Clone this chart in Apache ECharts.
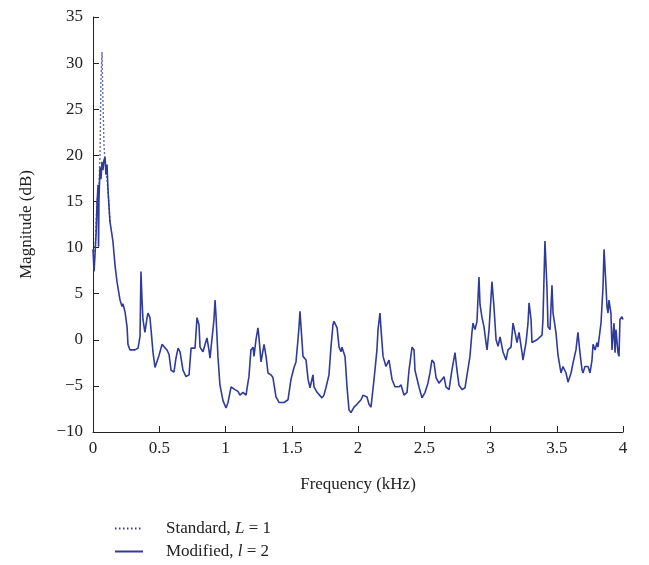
<!DOCTYPE html>
<html>
<head>
<meta charset="utf-8">
<script src="https://cdn.jsdelivr.net/npm/echarts@6/dist/echarts.min.js"></script>
<style>html,body{margin:0;padding:0;background:#fff}#c{width:649px;height:565px}</style>
</head>
<body>
<div id="c"></div>
<script>
// Frequency (kHz) and magnitude (dB)
var freqModified = [0.000,0.008,0.015,0.023,0.030,0.038,0.042,0.045,0.053,0.060,0.068,0.075,0.083,0.091,0.098,0.106,0.113,0.128,0.143,0.151,0.166,0.181,0.189,0.204,0.219,0.226,0.242,0.257,0.264,0.279,0.294,0.317,0.340,0.355,0.362,0.370,0.377,0.392,0.408,0.415,0.430,0.438,0.453,0.468,0.483,0.498,0.521,0.536,0.558,0.574,0.589,0.611,0.626,0.642,0.657,0.679,0.702,0.725,0.740,0.755,0.770,0.785,0.800,0.808,0.830,0.845,0.860,0.875,0.883,0.898,0.913,0.921,0.928,0.943,0.958,0.981,1.004,1.019,1.042,1.072,1.094,1.109,1.132,1.155,1.170,1.177,1.192,1.208,1.215,1.230,1.245,1.253,1.268,1.283,1.291,1.306,1.321,1.343,1.358,1.381,1.404,1.442,1.472,1.494,1.517,1.532,1.547,1.555,1.562,1.570,1.585,1.608,1.623,1.638,1.660,1.668,1.691,1.706,1.728,1.743,1.758,1.781,1.796,1.811,1.819,1.842,1.857,1.872,1.879,1.902,1.917,1.932,1.947,1.970,1.992,2.023,2.038,2.068,2.083,2.098,2.121,2.143,2.151,2.166,2.174,2.189,2.211,2.234,2.257,2.279,2.309,2.325,2.347,2.355,2.370,2.385,2.408,2.423,2.430,2.460,2.483,2.506,2.528,2.543,2.558,2.574,2.589,2.611,2.634,2.649,2.664,2.687,2.709,2.732,2.747,2.762,2.785,2.808,2.823,2.845,2.860,2.868,2.883,2.898,2.913,2.921,2.936,2.951,2.966,2.974,2.989,3.011,3.026,3.042,3.057,3.072,3.087,3.094,3.117,3.132,3.155,3.170,3.185,3.200,3.215,3.238,3.245,3.268,3.283,3.291,3.306,3.313,3.328,3.351,3.366,3.389,3.396,3.411,3.426,3.434,3.449,3.464,3.472,3.494,3.509,3.525,3.532,3.547,3.570,3.585,3.608,3.623,3.645,3.660,3.675,3.691,3.698,3.713,3.736,3.751,3.766,3.774,3.789,3.804,3.811,3.834,3.849,3.857,3.872,3.879,3.887,3.894,3.909,3.917,3.932,3.940,3.947,3.962,3.970,3.977,3.992,4.000];
var magModified = [9.8,7.4,9.2,11.4,14.6,16.8,10.1,15.2,18.7,17.4,19.3,18.4,19.5,19.8,17.9,19.0,16.3,12.8,11.4,10.6,8.1,6.3,5.6,4.3,3.6,3.9,3.0,1.4,-0.5,-1.1,-1.3,-1.1,-0.9,0.4,7.4,4.3,2.2,0.8,2.4,2.9,2.4,1.1,-1.4,-3.0,-3.0,-1.7,-0.5,-0.7,-1.1,-1.6,-3.3,-3.5,-2.0,-0.9,-1.3,-3.3,-4.0,-3.8,-0.9,-0.8,-0.9,2.4,1.6,-0.8,-1.3,-1.4,0.2,-1.1,-2.0,-2.0,2.2,4.3,2.7,-1.8,-4.9,-6.6,-7.4,-6.8,-5.1,-5.4,-5.6,-6.0,-5.7,-6.0,-4.6,-4.0,-1.1,-0.8,-1.8,0.0,1.3,0.2,-2.4,-2.2,-0.5,-1.8,-3.6,-3.8,-4.1,-6.2,-6.8,-6.8,-6.5,-4.3,-3.0,-2.4,0.0,1.4,3.1,1.4,-1.8,-2.2,-4.3,-5.2,-3.8,-5.1,-5.7,-5.7,-6.3,-6.0,-5.2,-3.8,-0.8,1.6,2.0,1.3,-0.8,-1.3,-0.8,-1.8,-5.1,-7.6,-7.9,-7.3,-7.0,-6.5,-6.0,-6.2,-7.0,-7.3,-4.3,-1.1,1.1,2.9,1.1,-1.8,-2.9,-2.2,-4.3,-5.1,-5.1,-4.9,-6.0,-6.2,-5.7,-3.3,-0.8,-1.1,-3.3,-5.1,-6.3,-5.7,-4.7,-3.6,-2.2,-2.5,-4.1,-4.7,-4.3,-4.0,-5.1,-5.4,-3.3,-1.4,-3.3,-4.9,-5.4,-5.2,-3.8,-1.8,0.8,1.8,1.1,2.0,6.8,3.8,2.4,1.4,-0.3,-1.1,1.1,6.3,3.6,0.0,-0.7,0.3,0.2,-1.3,-2.2,-1.1,-0.8,1.8,0.8,-0.3,0.8,-1.4,-2.2,-0.3,1.8,4.0,2.2,-0.3,-0.2,0.0,0.2,0.5,2.2,10.7,5.7,1.4,1.1,5.9,2.9,0.8,-1.6,-3.0,-3.6,-2.9,-3.6,-4.6,-3.6,-2.5,-1.1,0.8,-1.4,-3.3,-3.6,-2.9,-2.9,-3.6,-2.2,-0.5,-1.1,-0.3,-0.8,1.8,5.7,9.8,5.7,3.6,2.9,4.3,2.9,-1.1,1.8,-1.4,1.1,-1.4,-1.8,2.2,2.5,2.2];
// Standard, L = 1: visible only where it departs from the modified curve
var freqStandard = [0.000,0.015,0.030,0.045,0.053,0.060,0.068,0.075,0.083,0.091,0.098,0.113,0.128];
var magStandard = [9.8,9.5,15.0,16.5,20.0,28.0,31.2,26.0,21.0,19.5,18.5,16.3,12.8];
var xTicks = {min: 0, max: 4, step: 0.5};
var yTicks = {min: -10, max: 35, step: 5};
var seriesNames = ['Standard, L = 1', 'Modified, l = 2'];

function pairs(xs, ys){ return xs.map(function(x,i){ return [x, ys[i]]; }); }

var color = '#2f3b9a';
var font = 'Liberation Serif';
var chart = echarts.init(document.getElementById('c'), null, {renderer:'canvas'});
chart.setOption({
  animation: false,
  backgroundColor: '#fff',
  grid: {left: 93, right: 26, top: 17, bottom: 133},
  xAxis: {
    type: 'value', min: xTicks.min, max: xTicks.max, interval: xTicks.step,
    name: 'Frequency (kHz)', nameLocation: 'middle', nameGap: 44,
    nameTextStyle: {fontFamily: font, fontSize: 17, color: '#222'},
    axisLine: {show: true, onZero: false, lineStyle: {color: '#222', width: 1}},
    axisTick: {show: true, inside: true, length: 6, lineStyle: {color: '#222'}},
    axisLabel: {fontFamily: font, fontSize: 17, color: '#222', margin: 8,
      formatter: function(v){ return String(v); }},
    splitLine: {show: false}
  },
  yAxis: {
    type: 'value', min: yTicks.min, max: yTicks.max, interval: yTicks.step,
    name: 'Magnitude (dB)', nameLocation: 'middle', nameGap: 58,
    nameTextStyle: {fontFamily: font, fontSize: 17, color: '#222'},
    axisLine: {show: true, onZero: false, lineStyle: {color: '#222', width: 1}},
    axisTick: {show: true, inside: true, length: 6, lineStyle: {color: '#222'}},
    axisLabel: {fontFamily: font, fontSize: 17, color: '#222', margin: 10,
      formatter: function(v){ return v < 0 ? '\u2212' + Math.abs(v) : String(v); }},
    splitLine: {show: false}
  },
  legend: {
    orient: 'vertical', left: 109, top: 515, itemWidth: 28, itemHeight: 14, itemGap: 6,
    itemStyle: {opacity: 0},
    data: seriesNames,
    formatter: function(name){
      if (name === seriesNames[0]) return '{n|Standard, }{i|L}{n| = 1}';
      return '{n|Modified, }{i|l}{n| = 2}';
    },
    textStyle: {padding: [0,0,0,18], rich: {
      n: {fontFamily: font, fontSize: 17, color: '#222', lineHeight: 20},
      i: {fontFamily: font, fontSize: 17, color: '#222', fontStyle: 'italic', lineHeight: 20}
    }}
  },
  series: [
    {name: seriesNames[0], type: 'line', data: pairs(freqStandard, magStandard),
     showSymbol: false, symbol: 'none', silent: true,
     lineStyle: {color: color, width: 1.4, type: [1.5, 2.5]}, itemStyle: {color: color}},
    {name: seriesNames[1], type: 'line', data: pairs(freqModified, magModified),
     showSymbol: false, symbol: 'none', silent: true,
     lineStyle: {color: color, width: 1.6}, itemStyle: {color: color}}
  ]
});
</script>
</body>
</html>
